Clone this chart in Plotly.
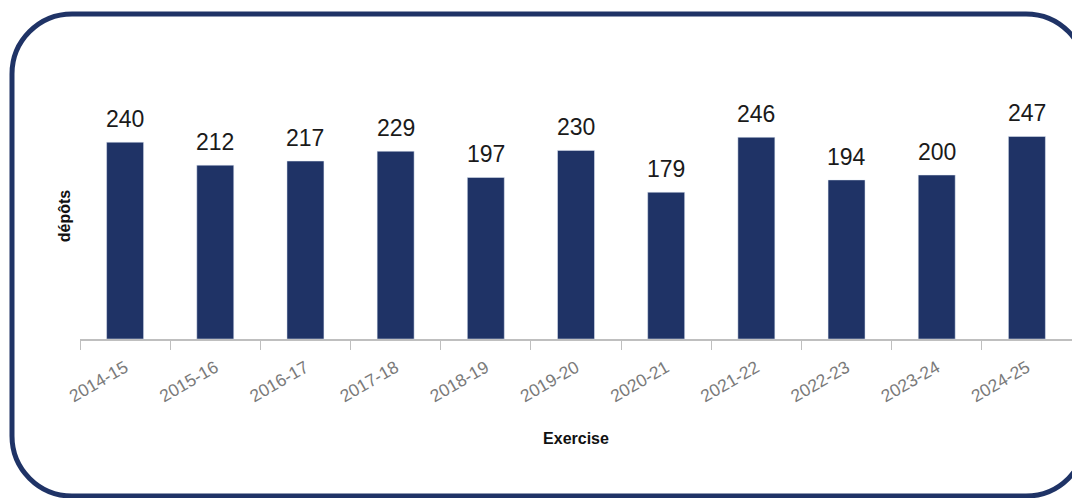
import plotly.graph_objects as go

# Données
exercises = ["2014-15", "2015-16", "2016-17", "2017-18", "2018-19", "2019-20",
             "2020-21", "2021-22", "2022-23", "2023-24", "2024-25"]
depots = [240, 212, 217, 229, 197, 230, 179, 246, 194, 200, 247]

NAVY = "#1F3366"

# Zone de tracé en pixels (la page ajoute une marge de 8 px)
W, H = 1080, 498
L, R, T, B = 72, 16, 85, 167
pw, ph = W - L - R, H - T - B


def to_paper(px, py):
    return (px - L) / pw, (H - B - py) / ph


def rounded_rect(x0, y0, x1, y1, r):
    k = 0.4477  # approximation d'un quart de cercle par une cubique
    def p(x, y):
        a, b = to_paper(x, y)
        return f"{a:.5f},{b:.5f}"
    d = f"M {p(x0 + r, y0)} L {p(x1 - r, y0)} "
    d += f"C {p(x1 - r * k, y0)} {p(x1, y0 + r * k)} {p(x1, y0 + r)} "
    d += f"L {p(x1, y1 - r)} "
    d += f"C {p(x1, y1 - r * k)} {p(x1 - r * k, y1)} {p(x1 - r, y1)} "
    d += f"L {p(x0 + r, y1)} "
    d += f"C {p(x0 + r * k, y1)} {p(x0, y1 - r * k)} {p(x0, y1 - r)} "
    d += f"L {p(x0, y0 + r)} "
    d += f"C {p(x0, y0 + r * k)} {p(x0 + r * k, y0)} {p(x0 + r, y0)} Z"
    return d


fig = go.Figure(go.Bar(
    x=exercises,
    y=depots,
    marker_color=NAVY,
))

# Étiquettes de valeur au-dessus des barres
for ex, v in zip(exercises, depots):
    fig.add_annotation(
        x=ex, y=v, text=str(v), showarrow=False,
        yanchor="bottom", yshift=8,
        font=dict(size=23, color="#1a1a1a", family="Liberation Sans"),
    )

fig.update_layout(
    width=W, height=H,
    margin=dict(l=L, r=R, t=T, b=B),
    paper_bgcolor="white",
    plot_bgcolor="white",
    bargap=0.59,
    showlegend=False,
    font=dict(family="Liberation Sans"),
    xaxis=dict(
        title=dict(text="<b>Exercise</b>", font=dict(size=16, color="#111"), standoff=28),
        showline=True, linecolor="#bfbfbf", linewidth=1.5,
        ticks="outside", tickson="boundaries", ticklen=9, tickcolor="#bfbfbf",
        tickangle=-30, tickfont=dict(size=17.5, color="#7a7a7a"),
        ticklabelstandoff=10,
        showgrid=False,
    ),
    yaxis=dict(
        title=dict(text="<b>dépôts</b>", font=dict(size=16, color="#111"), standoff=4),
        range=[0, 300], showticklabels=False, showgrid=False, zeroline=False,
        showline=False, ticks="",
    ),
    shapes=[dict(
        type="path", xref="paper", yref="paper",
        path=rounded_rect(4, 6, 1078, 488, 60),
        line=dict(color=NAVY, width=5),
        layer="above",
    )],
)

fig.write_html("out.html")
